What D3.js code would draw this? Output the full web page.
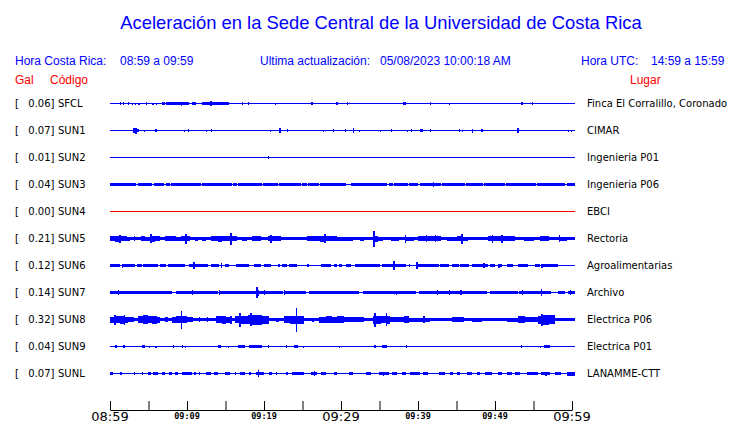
<!DOCTYPE html>
<html><head><meta charset="utf-8">
<script src="https://cdn.jsdelivr.net/npm/d3@7"></script>
<style>
html,body{margin:0;padding:0;background:#fff;}
svg{display:block;}
</style></head>
<body>
<svg id="c" width="740" height="423"></svg>
<script>
// ---------- data ----------
const codes = ["SFCL","SUN1","SUN2","SUN3","SUN4","SUN5","SUN6","SUN7","SUN8","SUN9","SUNL"];
const galValues = [0.06,0.07,0.01,0.04,0.00,0.21,0.12,0.14,0.32,0.04,0.07];
const places = ["Finca El Corralillo, Coronado","CIMAR","Ingenieria P01","Ingenieria P06","EBCI","Rectoria","Agroalimentarias","Archivo","Electrica P06","Electrica P01","LANAMME-CTT"];
const traceColors = ["blue","blue","blue","blue","red","blue","blue","blue","blue","blue","blue"];
const tickMinutes = [0,5,10,15,20,25,30,35,40,45,50,55,60];
const tickLabels = [[0,"08:59",true],[10,"09:09",false],[20,"09:19",false],[30,"09:29",true],[40,"09:39",false],[50,"09:49",false],[60,"09:59",true]];
const traceEnd = 60.4;

// envelopes: [minute, half-amplitude] step points
const envSFCL = [[0,0.5],[1.3,1.5],[1.45,0.5],[1.7,1.5],[1.85,0.5],[2.3,1.3],[2.45,0.5],[2.8,1],[2.95,0.5],[3.2,1],[3.35,0.5],[3.7,1],[3.85,0.5],[4.7,1.3],[4.85,0.5],[5.5,1],[5.65,0.5],[6.0,1],[6.15,0.5],[6.7,1.5],[7.1,0.5],[7.3,1.2],[9.2,2],[9.4,1.2],[10.3,0.5],[10.6,1.3],[11.2,0.5],[11.9,1.3],[13.0,2.5],[13.2,1.3],[15.5,0.5],[17.1,1.3],[17.25,0.5],[17.9,1.3],[18.05,0.5],[21.4,1],[21.55,0.5],[26.1,1.5],[26.4,0.5],[29.4,1.5],[29.55,0.5],[30.8,1.5],[30.95,0.5],[38.1,1.5],[38.4,0.5],[41.5,1.5],[41.7,0.5],[44.0,1],[44.15,0.5],[53.4,1.5],[53.7,0.5],[54.75,1.2],[54.9,0.5]];
const envSUN1 = [[0,0.5],[3.0,2.5],[3.3,3],[3.5,1.5],[3.75,0.5],[4.4,1],[4.55,0.5],[5.9,1.3],[6.05,0.5],[9.6,1],[9.75,0.5],[10.1,1.3],[10.25,0.5],[12.5,1],[12.65,0.5],[13.1,1.3],[13.25,0.5],[20.8,1],[20.95,0.5],[22.0,2.5],[22.15,0.5],[23.0,1.3],[23.15,0.5],[27.6,1],[27.75,0.5],[29.0,1.3],[29.15,0.5],[30.5,1.3],[30.65,0.5],[31.5,2.7],[31.75,0.5],[32.3,1],[32.45,0.5],[35.05,1],[35.2,0.5],[36.5,1.3],[36.65,0.5],[38.6,1],[38.75,0.5],[39.1,1.3],[39.25,0.5],[40.2,1.5],[40.6,0.5],[41.6,1.3],[41.75,0.5],[45.3,1.3],[45.45,0.5],[45.7,1],[45.85,0.5],[47.0,2],[47.15,0.5],[48.2,1.3],[48.4,0.5],[52.8,2.7],[53.1,0.5],[59.5,1],[59.65,0.5],[59.9,1],[60,0.5]];
const envSUN2 = [[0,0.5],[20.5,1.2],[20.65,0.5]];
const envSUN3 = [[0,1.7],[3.4,0.5],[3.7,1.7],[5.5,0.5],[5.75,1.7],[7.0,0.5],[7.3,1.7],[7.8,0.5],[7.95,1.7],[11.8,0.5],[11.95,1.7],[15.9,0.5],[16.0,1.7],[16.5,0.5],[16.6,1.7],[19.8,0.5],[19.9,1.7],[21.8,0.5],[21.9,1.7],[24.8,0.5],[24.9,1.7],[25.6,0.5],[25.7,1.7],[27.2,0.5],[27.3,1.7],[28.9,0.5],[29.0,1.7],[30.6,0.5],[31.3,1.7],[36.0,0.5],[36.2,1.7],[36.8,0.5],[36.9,1.7],[38.4,0.5],[38.5,1.7],[38.7,0.5],[38.8,1.7],[40.0,0.5],[40.2,1.7],[41.9,2.3],[42.1,1.7],[43.0,0.5],[43.1,1.7],[46.1,0.5],[46.2,1.7],[48.5,0.5],[48.6,1.7],[48.9,0.5],[49.0,1.7],[51.3,0.5],[51.4,1.7],[55.3,0.5],[55.4,1.7],[56.7,0.5],[56.8,1.7],[59.1,0.5],[59.3,1.7]];
const envSUN4 = [[0,0.5]];
const envSUN5 = [[0,2.5],[0.6,3],[1.2,4],[1.4,2.7],[2.2,2],[2.6,1.3],[3.1,2.3],[3.3,1.3],[4.0,2.3],[4.6,2],[5.2,4.5],[5.5,3],[5.8,2.3],[6.5,1.8],[7.2,2.3],[8.0,2.6],[8.6,2],[9.2,2.5],[9.8,5],[10.0,2.3],[10.4,1.5],[11.0,2],[11.4,1.3],[12.0,2],[12.5,1.5],[13.1,2.7],[14.0,3],[14.6,2.5],[15.6,6],[15.8,2.3],[16.5,1.5],[17.2,2],[17.8,1.5],[18.5,2.7],[19.6,1.5],[20.5,2.5],[20.8,4],[21.0,2.7],[22.2,1.5],[23.0,1.3],[24.0,1.8],[24.8,1.5],[25.6,2.7],[26.5,2.2],[27.3,3],[27.8,4.3],[28.0,2.7],[29.5,2],[30.5,2],[31.5,1.5],[32.5,2],[33.0,1.5],[34.1,8],[34.4,3],[34.8,2],[35.5,1.5],[36.5,2],[37.5,1.5],[38.3,4],[38.5,2],[39.5,1.5],[40.0,2.3],[41.0,3.5],[41.2,2.3],[42.2,3.5],[42.4,2.3],[43.0,1.5],[43.8,2],[45.0,2.3],[45.6,5],[45.8,2],[46.5,1.5],[47.5,1.8],[48.5,1.5],[49.1,2.7],[49.6,4],[49.8,2.7],[50.8,4],[51.0,2.7],[52.6,1.5],[53.8,2],[55.0,1.5],[55.8,2.2],[57.0,1.8],[58.3,3.5],[58.5,2],[59.3,1.5]];
const envSUN6 = [[0,1.5],[1.3,0.5],[1.5,2],[1.7,1.5],[3.2,0.5],[3.45,1.5],[4.1,0.5],[4.3,1.5],[6.25,0.5],[6.5,1.5],[7.3,0.5],[7.5,1.5],[9.7,0.5],[10.3,1.5],[10.8,3.3],[11.0,1.5],[12.7,0.5],[13.1,1.5],[14.2,0.5],[14.4,2.7],[14.55,0.5],[14.9,1.5],[15.4,0.5],[16.4,1.5],[18.1,0.5],[18.75,1.5],[19.6,0.5],[20.0,1.5],[20.9,0.5],[21.8,1.5],[22.1,0.5],[22.4,1.5],[23.0,0.5],[23.3,1.5],[24.35,0.5],[25.6,1.5],[25.9,0.5],[27.4,1.5],[28.7,0.5],[29.1,1.5],[29.5,0.5],[29.75,1.5],[30.1,0.5],[30.6,1.5],[31.3,0.5],[31.8,1.5],[35.1,0.5],[35.35,1.5],[36.8,4.3],[37.0,1.5],[38.4,0.5],[38.8,1.5],[39.0,0.5],[39.8,3.3],[40.0,1.5],[42.7,0.5],[42.9,1.5],[44.0,0.5],[44.4,1.5],[45.3,0.5],[45.5,1.5],[46.6,0.5],[47.0,1.5],[48.5,2.3],[48.7,1.5],[49.15,0.5],[49.4,1.5],[50.0,0.5],[50.4,2],[50.6,1.5],[50.9,0.5],[51.5,1.5],[52.4,0.5],[53.0,1.5],[54.3,0.5],[55.2,1.5],[55.8,0.5],[56.0,2],[56.2,1.5],[58.2,0.5]];
const envSUN7 = [[0,1.7],[1.0,2.3],[1.15,1.7],[8.0,0.5],[8.6,1.7],[10.6,2.3],[10.75,1.7],[14.0,0.5],[14.15,2.3],[14.3,1.7],[18.9,3],[19.0,5.3],[19.2,3],[19.35,1.7],[20.0,2.3],[20.15,1.7],[22.5,0.5],[22.6,2.3],[22.75,1.7],[25.4,0.5],[25.9,1.7],[32.3,0.5],[32.8,1.7],[37.1,2],[37.25,1.7],[39.7,0.5],[40.1,1.7],[42.5,2.7],[42.65,1.7],[44.0,2.3],[44.15,1.7],[45.5,2.7],[45.65,1.7],[48.9,0.5],[49.4,1.7],[53.0,0.5],[53.1,1.7],[53.5,2.3],[53.65,1.7],[56.0,3.3],[56.15,1.7],[57.3,0.5],[58.2,1.7],[59.1,0.5],[59.5,1.7],[59.7,2.3],[59.85,1.7]];
const envSUN8 = [[0,3],[0.5,5],[0.8,3.5],[1.3,4],[1.8,5],[2.0,3],[2.4,2.3],[3.1,1.7],[3.7,3.5],[4.3,4.3],[4.9,3.3],[5.5,4],[6.1,3],[6.5,1.7],[7.2,2.3],[7.5,1.7],[8.0,3],[8.6,3.5],[9.2,9],[9.35,3.3],[10.0,2.7],[10.8,1.7],[11.6,2.3],[11.75,1.7],[12.6,2.3],[12.75,1.7],[13.8,3.5],[14.5,4],[15.1,3],[15.6,4],[15.9,1.7],[16.2,3.5],[16.8,7],[17.0,4],[17.9,4.5],[18.2,6.7],[18.4,5],[19.2,5],[19.8,4],[20.7,1.7],[21.5,2],[22.0,1.7],[22.6,3.5],[23.4,4],[24.1,12],[24.25,4],[25.2,1.7],[26.2,2],[26.5,1.7],[27.2,3],[28.0,3.5],[28.8,3],[29.5,3.3],[30.4,2.7],[31.5,2.3],[32.3,2.7],[33.0,1.7],[34.1,4],[34.3,7],[34.5,4],[35.2,3.5],[35.8,6.7],[36.0,4],[36.4,2.3],[38.2,3.3],[38.8,2],[40.6,3.3],[40.9,2],[41.5,1.7],[44.4,2.3],[46.0,1.7],[47.0,2],[48.3,1.7],[51.5,2],[53.0,3.3],[53.9,2.3],[55.6,4],[56.0,6],[56.2,5],[57.0,4.5],[57.8,1.7]];
const envSUN9 = [[0,0.5],[0.7,1.2],[0.85,0.5],[1.7,1.7],[2.0,0.5],[4.2,1.3],[4.5,0.5],[5.1,1],[5.25,0.5],[5.9,1],[6.05,0.5],[8.2,1.2],[8.35,0.5],[9.3,1.3],[9.45,0.5],[9.7,1],[9.85,0.5],[14.0,1.3],[14.4,0.5],[15.3,1],[15.45,0.5],[16.6,1.5],[17.5,0.5],[18.1,1.7],[19.8,0.5],[20.5,1.3],[20.65,0.5],[22.8,1.3],[22.95,0.5],[23.9,1.5],[24.4,0.5],[25.0,1],[25.15,0.5],[29.7,1],[29.85,0.5],[34.3,1.7],[34.6,0.5],[35.3,1.5],[36.0,0.5],[38.4,1.5],[38.6,0.5],[53.4,1.3],[53.55,0.5],[55.8,1],[55.95,0.5],[56.3,1.3],[57.1,0.5]];
const envSUNL = [[0,1.5],[0.4,0.5],[1.3,1.3],[1.5,0.5],[3.15,1.3],[3.3,0.5],[4.1,1.2],[4.25,0.5],[4.9,1.5],[5.3,0.5],[5.6,1.5],[6.25,0.5],[6.7,1.3],[7.1,0.5],[7.6,1.3],[8.0,0.5],[8.4,1.3],[8.8,0.5],[9.3,1.5],[10.6,0.5],[10.9,1.3],[11.2,0.5],[11.6,1.2],[11.75,0.5],[12.5,1.5],[13.1,0.5],[13.5,1.3],[14.0,0.5],[14.9,1.5],[15.6,0.5],[16.2,1.2],[16.4,0.5],[16.9,1.5],[17.5,0.5],[18.1,1.2],[18.3,0.5],[19.0,1.5],[19.2,3.3],[19.35,1.5],[20.0,0.5],[20.7,1.3],[21.1,0.5],[21.55,1.2],[21.7,0.5],[22.8,1.3],[23.1,0.5],[23.7,1.5],[25.2,0.5],[26.1,1.5],[26.5,2.7],[26.65,1.5],[26.9,0.5],[27.4,1.3],[28.0,0.5],[29.1,1.3],[29.5,0.5],[31.0,1.3],[31.5,0.5],[33.2,1.5],[33.85,0.5],[34.9,1.5],[35.4,2],[35.6,1.5],[36.2,0.5],[36.65,1.3],[37.3,0.5],[37.9,1.3],[38.4,0.5],[39.0,1.5],[40.3,0.5],[40.7,1.3],[41.3,0.5],[42.7,1.5],[43.5,0.5],[44.2,1.3],[44.6,0.5],[45.1,1.3],[45.5,0.5],[46.3,1.5],[47.0,0.5],[47.6,1.3],[48.1,0.5],[48.7,1.5],[49.6,0.5],[50.4,1.3],[50.9,0.5],[51.5,1.5],[52.2,0.5],[52.6,1.3],[53.2,0.5],[54.1,1.5],[55.6,0.5],[56.0,1.5],[56.5,2],[56.7,1.5],[57.1,0.5],[57.8,1.3],[58.6,0.5],[59.3,2]];
const envelopes = [envSFCL,envSUN1,envSUN2,envSUN3,envSUN4,envSUN5,envSUN6,envSUN7,envSUN8,envSUN9,envSUNL];

// ---------- drawing ----------
const svg = d3.select("#c");
const x = d3.scaleLinear().domain([0,60]).range([110,572]);
const row = d3.scalePoint().domain(codes).range([103.5,373.5]);
const amp = d3.scaleLinear().domain([0,1]).range([0,1]);

const BLUE = "#0000ff", RED = "#ff0000";

svg.append("text").attr("x",381).attr("y",29).attr("text-anchor","middle")
  .attr("font-family","Liberation Sans, Arial, sans-serif").attr("font-size",18.4)
  .attr("fill",BLUE).text("Aceleración en la Sede Central de la Universidad de Costa Rica");

const hdr = [[15,"Hora Costa Rica:"],[120,"08:59 a 09:59"],[260,"Ultima actualización:"],[380,"05/08/2023 10:00:18 AM"],[581,"Hora UTC:"],[651,"14:59 a 15:59"]];
svg.selectAll("text.hdr").data(hdr).join("text").attr("class","hdr")
  .attr("x",d=>d[0]).attr("y",65).attr("font-family","Liberation Sans, Arial, sans-serif")
  .attr("font-size",12).attr("fill",BLUE).text(d=>d[1]);

const sub = [[15,"Gal"],[50,"Código"],[630,"Lugar"]];
svg.selectAll("text.sub").data(sub).join("text").attr("class","sub")
  .attr("x",d=>d[0]).attr("y",84).attr("font-family","Liberation Sans, Arial, sans-serif")
  .attr("font-size",12).attr("fill",RED).text(d=>d[1]);

const lab = svg.append("g").attr("font-family","DejaVu Sans, sans-serif").attr("font-size",10).attr("fill","#000");
codes.forEach((c,i)=>{
  const y = row(c)+3.5;
  lab.append("text").attr("x",15).attr("y",y).text("[");
  lab.append("text").attr("x",54.5).attr("y",y).attr("text-anchor","end").text(galValues[i].toFixed(2)+"]");
  lab.append("text").attr("x",58).attr("y",y).text(c);
  lab.append("text").attr("x",587).attr("y",y).text(places[i]);
});

const area = d3.area().curve(d3.curveStepAfter)
  .x(d=>x(d[0]));
codes.forEach((c,i)=>{
  const env = envelopes[i].slice();
  env.push([traceEnd, env[env.length-1][1]]);
  const cy = row(c);
  svg.append("path").datum(env)
    .attr("d", area.y0(d=>cy-amp(d[1])).y1(d=>cy+amp(d[1])))
    .attr("fill",traceColors[i]).attr("shape-rendering","crispEdges");
});

// axis
const axisY = 410;
const ax = svg.append("g").attr("transform",`translate(0,${axisY})`)
  .call(d3.axisBottom(x).tickValues(tickMinutes).tickSize(-9).tickSizeOuter(0).tickFormat(""));
ax.select(".domain").attr("stroke","#000");
ax.selectAll(".tick line").attr("stroke","#000");
svg.selectAll("text.tl").data(tickLabels).join("text").attr("class","tl")
  .attr("x",d=>x(d[0])).attr("y",d=>d[2]?421:419)
  .attr("text-anchor","middle")
  .attr("font-family",d=>d[2]?"DejaVu Sans, sans-serif":"DejaVu Sans Mono, monospace")
  .attr("font-weight",d=>d[2]?"normal":"bold")
  .attr("font-size",d=>d[2]?13:8.5)
  .attr("fill","#000").text(d=>d[1]);
</script>
</body></html>
